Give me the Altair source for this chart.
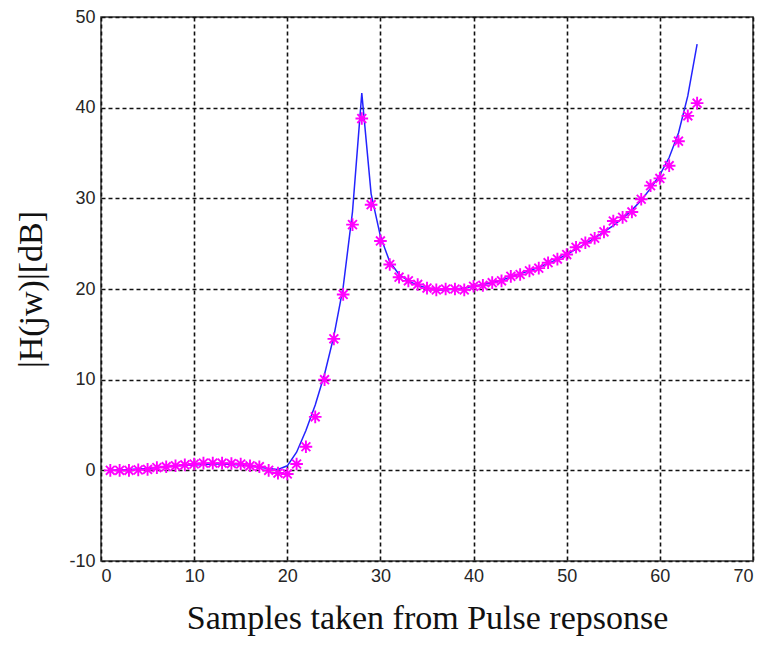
import altair as alt
import pandas as pd

samples = list(range(1, 65))
measured = [0, 0, 0, 0.05, 0.1, 0.3, 0.4, 0.5, 0.6, 0.7,
            0.8, 0.8, 0.8, 0.75, 0.7, 0.5, 0.4, 0.0, -0.3, -0.4,
            0.7, 2.6, 5.9, 10.0, 14.5, 19.4, 27.1, 38.8, 29.3, 25.3,
            22.7, 21.3, 20.9, 20.5, 20.1, 19.9, 20.0, 20.0, 19.9, 20.3,
            20.4, 20.7, 20.9, 21.4, 21.6, 22.0, 22.3, 22.9, 23.3, 23.8,
            24.6, 25.1, 25.6, 26.3, 27.5, 27.9, 28.5, 29.9, 31.4, 32.2,
            33.6, 36.3, 39.1, 40.5]
model = [0, 0.05, 0.1, 0.15, 0.2, 0.3, 0.4, 0.5, 0.55, 0.6,
         0.65, 0.7, 0.7, 0.65, 0.6, 0.5, 0.35, 0.2, 0.1, 0.5,
         2.0, 4.4, 7.2, 10.6, 14.8, 20.2, 28.5, 41.6, 30.5, 25.8,
         23.0, 21.6, 20.9, 20.4, 20.1, 19.9, 19.9, 20.0, 20.1, 20.3,
         20.5, 20.7, 21.0, 21.3, 21.7, 22.0, 22.4, 22.8, 23.3, 23.8,
         24.4, 25.0, 25.6, 26.3, 27.0, 27.8, 28.7, 29.8, 31.1, 32.6,
         34.5, 37.2, 41.3, 47.0]
x_ticks = [0, 10, 20, 30, 40, 50, 60, 70]
y_ticks = [-10, 0, 10, 20, 30, 40, 50]

df = pd.DataFrame({"n": samples, "meas": measured, "model": model})

x_enc = alt.X("n:Q", scale=alt.Scale(domain=[0, 70], nice=False),
              axis=alt.Axis(values=x_ticks, title="Samples taken from Pulse repsonse",
                            titlePadding=16, labelExpr="toString(datum.value)"))
y_scale = alt.Scale(domain=[-10, 50], nice=False)
y_axis = alt.Axis(values=y_ticks, title="|H(jw)|[dB]", titlePadding=20,
                  labelExpr="toString(datum.value)")

line = alt.Chart(df).mark_line(color="#2424ff", strokeWidth=1.5).encode(
    x=x_enc, y=alt.Y("model:Q", scale=y_scale, axis=y_axis))

star = "M0,-1L0,1M-1,0L1,0M-0.7,-0.7L0.7,0.7M-0.7,0.7L0.7,-0.7"
pts = alt.Chart(df).mark_point(shape=star, filled=False, color="#ff00ff",
                               strokeWidth=1.9, size=160, opacity=1).encode(
    x=x_enc, y=alt.Y("meas:Q", scale=y_scale, axis=y_axis))

chart = alt.layer(line, pts).properties(
    width=652, height=544,
    autosize=alt.AutoSizeParams(type="none"),
    padding={"left": 93, "top": 9, "right": 13, "bottom": 80},
).configure_view(stroke="#333333", strokeWidth=1.5).configure_axis(
    domain=False, ticks=False,
    grid=True, gridColor="#111111", gridDash=[4, 3], gridWidth=1.6, gridOpacity=1,
    labelFont="Liberation Sans", labelFontSize=18, labelColor="#262626", labelPadding=6,
    titleFont="Liberation Serif", titleFontSize=34, titleFontWeight="normal", titleColor="#111111",
)

chart.save("out.html", embed_options={"renderer": "svg", "actions": False})
